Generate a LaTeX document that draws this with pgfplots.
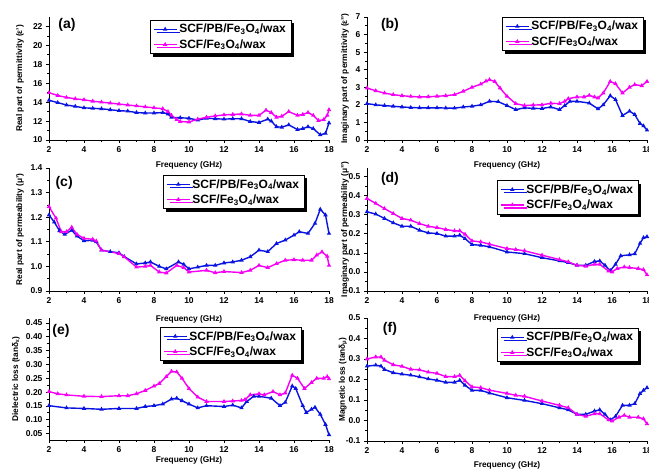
\documentclass[border=0pt]{standalone}
\usepackage{fontspec}
\setmainfont{Liberation Sans}
\usepackage{pgfplots}
\pgfplotsset{compat=1.18}
\usetikzlibrary{shadows}
\definecolor{myblue}{RGB}{10,20,225}
\definecolor{mymag}{RGB}{245,0,245}
\pgfplotsset{
  panel/.style={
    scale only axis, width=280pt, height=123pt,
    xmin=2, xmax=18, xtick={2,4,...,18}, minor x tick num=1, minor y tick num=1,
    axis x line*=bottom, axis y line*=left,
    axis line style={-,line width=0.8pt},
    tick align=outside, major tick length=3pt, minor tick length=2pt,
    every tick/.style={black,line width=0.8pt},
    /pgf/number format/assume math mode=true,
    tick label style={font=\fontsize{8.5}{9}\selectfont\bfseries},
    label style={font=\fontsize{8.3}{9}\selectfont\bfseries},
    xlabel={Frequency (GHz)},
    legend cell align=left,
    legend style={font=\fontsize{12}{13}\selectfont\bfseries, draw=black, line width=0.6pt,
      fill=white, inner xsep=3pt, inner ysep=2pt, row sep=1pt,
      drop shadow={shadow xshift=3pt,shadow yshift=-3pt,fill=black,opacity=1},
      anchor=north west},
    legend image code/.code={\draw[mark repeat=2,mark phase=2,##1] plot coordinates {(0cm,0cm) (0.4cm,0cm) (0.8cm,0cm)};},
  },
  sb/.style={color=myblue, line width=1.4pt, mark=triangle*, mark size=1.2pt, mark options={solid}},
  sm/.style={color=mymag, line width=1.4pt, mark=triangle*, mark size=1.2pt, mark options={solid}},
}
\newcommand{\lega}{\legend{SCF/PB/Fe\textsubscript{3}O\textsubscript{4}/wax,SCF/Fe\textsubscript{3}O\textsubscript{4}/wax}}
\newcommand{\plab}[3]{\node[font=\fontsize{14}{15}\selectfont\bfseries] at (rel axis cs:#1,#2) {#3};}
\begin{document}
\begin{tikzpicture}
\useasboundingbox (0,0) rectangle (649pt,472pt);
% (a)
\begin{axis}[panel, at={(49pt,332pt)}, anchor=south west,
  ymin=10, ymax=23, ytick={10,12,...,22},
  ylabel={Real part of permittivity (ε')},
  ylabel style={at={(axis description cs:-0.104,0.5)},anchor=center},
  xlabel style={at={(axis description cs:0.5,-0.203)},anchor=center},
  legend style={at={(0.36,0.976)}}]
\addplot[sb] coordinates {(2,14.2)(2.5,13.95)(3,13.7)(3.5,13.55)(4,13.4)(4.5,13.35)(5,13.3)(5.5,13.2)(6,13.1)(6.5,13.05)(7,12.9)(7.5,12.85)(8,12.85)(8.5,12.9)(8.8,12.75)(9,12.4)(9.5,12.35)(10,12.3)(10.5,12.1)(11,12.3)(11.5,12.25)(12,12.2)(12.5,12.25)(13,12.25)(13.5,11.95)(14,11.85)(14.5,12.2)(14.7,12.0)(15,11.4)(15.3,11.35)(15.7,11.6)(16.2,11.1)(16.5,11.2)(16.8,11.4)(17.1,11.2)(17.5,10.55)(17.8,10.7)(18,11.8)};
\addplot[sm] coordinates {(2,15.0)(2.5,14.7)(3,14.5)(3.5,14.35)(4,14.25)(4.5,14.1)(5,14.0)(5.5,13.9)(6,13.8)(6.5,13.7)(7,13.6)(7.5,13.5)(8,13.4)(8.5,13.3)(8.8,13.0)(9,12.6)(9.3,12.15)(9.5,11.95)(10,11.9)(10.5,12.2)(11,12.4)(11.5,12.55)(12,12.65)(12.5,12.7)(13,12.75)(13.5,12.6)(14,12.6)(14.4,13.15)(14.7,12.9)(15,12.4)(15.3,12.5)(15.7,13.0)(16.2,12.6)(16.5,12.7)(16.8,12.9)(17.1,12.6)(17.4,12.05)(17.7,12.15)(17.9,12.6)(18,13.2)};
\lega
\plab{0.064}{0.935}{(a)}
\end{axis}
% (b)
\begin{axis}[panel, at={(367pt,332pt)}, anchor=south west,
  ymin=0, ymax=7, ytick={0,1,...,7},
  ylabel={Imaginary part of permittivity (ε'')},
  ylabel style={at={(axis description cs:-0.079,0.5)},anchor=center},
  xlabel style={at={(axis description cs:0.5,-0.209)},anchor=center},
  legend style={at={(0.482,1.0)}}]
\addplot[sb] coordinates {(2,2.07)(2.5,2.0)(3,1.96)(3.5,1.92)(4,1.88)(4.5,1.85)(5,1.83)(5.5,1.83)(6,1.83)(6.5,1.82)(7,1.81)(7.5,1.88)(8,1.92)(8.5,2.0)(9,2.2)(9.5,2.18)(10,1.96)(10.5,1.73)(11,1.83)(11.5,1.8)(12,1.79)(12.5,1.88)(13,1.73)(13.3,1.96)(13.6,2.2)(14,2.2)(14.7,2.1)(15.2,1.77)(15.5,2.0)(15.9,2.52)(16.2,2.3)(16.6,1.39)(17,1.64)(17.3,1.45)(17.6,0.94)(17.8,0.8)(18,0.56)};
\addplot[sm] coordinates {(2,2.96)(2.5,2.8)(3,2.67)(3.5,2.58)(4,2.52)(4.5,2.48)(5,2.45)(5.5,2.46)(6,2.49)(6.5,2.52)(7,2.58)(7.5,2.77)(8,3.0)(8.5,3.18)(8.8,3.35)(9,3.43)(9.3,3.33)(9.6,2.96)(10,2.49)(10.5,2.07)(11,1.96)(11.5,1.99)(12,2.0)(12.5,2.09)(13,2.07)(13.3,2.2)(13.5,2.35)(14,2.45)(14.4,2.45)(14.7,2.54)(15,2.45)(15.2,2.39)(15.5,2.67)(15.9,3.33)(16.2,3.2)(16.6,2.67)(17,3.0)(17.3,3.15)(17.7,3.09)(18,3.33)};
\lega
\plab{0.082}{0.935}{(b)}
\end{axis}
% (c)
\begin{axis}[panel, at={(49pt,181pt)}, anchor=south west,
  ymin=0.9, ymax=1.4, ytick={0.9,1.0,...,1.4},
  yticklabel style={/pgf/number format/.cd,fixed,precision=1,fixed zerofill},
  ylabel={Real part of permeability (μ')},
  ylabel style={at={(axis description cs:-0.104,0.5)},anchor=center},
  xlabel style={at={(axis description cs:0.5,-0.228)},anchor=center},
  legend style={at={(0.407,0.943)}}]
\addplot[sb] coordinates {(2,1.209)(2.3,1.18)(2.6,1.145)(2.9,1.13)(3.3,1.147)(3.6,1.123)(4,1.104)(4.5,1.106)(4.7,1.1)(5,1.066)(5.5,1.06)(6,1.055)(6.3,1.04)(7,1.01)(7.5,1.014)(7.8,1.018)(8.3,1.0)(8.7,0.99)(9.4,1.018)(9.7,1.008)(10,0.99)(10.5,0.997)(11,1.004)(11.5,1.004)(12,1.014)(12.5,1.018)(13,1.025)(13.5,1.039)(14,1.066)(14.5,1.06)(15,1.093)(15.5,1.107)(16,1.127)(16.3,1.141)(16.8,1.134)(17.2,1.175)(17.5,1.232)(17.8,1.209)(18,1.134)};
\addplot[sm] coordinates {(2,1.243)(2.4,1.196)(2.7,1.141)(3,1.141)(3.3,1.159)(3.6,1.13)(4,1.114)(4.5,1.11)(4.7,1.103)(5,1.066)(6,1.052)(6.3,1.039)(7,0.997)(7.5,1.0)(7.8,1.004)(8.3,0.977)(8.7,0.973)(9.3,1.004)(9.7,0.995)(10,0.977)(11,0.984)(11.5,0.974)(12,0.979)(13,0.975)(13.5,0.984)(14,1.004)(14.5,0.995)(15,1.011)(15.5,1.025)(16,1.027)(16.5,1.025)(17,1.025)(17.3,1.046)(17.6,1.059)(17.9,1.041)(18,1.004)};
\lega
\plab{0.054}{0.878}{(c)}
\end{axis}
% (d)
\begin{axis}[panel, at={(367pt,181pt)}, anchor=south west,
  ymin=-0.1, ymax=0.546, ytick={-0.1,0,0.1,0.2,0.3,0.4,0.5},
  yticklabel style={/pgf/number format/.cd,fixed,precision=1,fixed zerofill},
  ylabel={Imaginary part of permeability (μ'')},
  ylabel style={at={(axis description cs:-0.079,0.5)},anchor=center},
  xlabel style={at={(axis description cs:0.5,-0.22)},anchor=center},
  legend style={at={(0.464,0.90)}}]
\addplot[sb] coordinates {(2,0.316)(2.5,0.304)(3,0.281)(3.5,0.258)(4,0.24)(4.5,0.24)(5,0.219)(5.5,0.205)(6,0.202)(6.5,0.188)(7,0.188)(7.3,0.193)(7.6,0.175)(8,0.144)(8.5,0.14)(9,0.132)(10,0.105)(11,0.096)(12,0.075)(13,0.058)(13.5,0.049)(14,0.035)(14.5,0.035)(15,0.055)(15.3,0.058)(15.6,0.035)(15.9,0.007)(16.2,0.04)(16.5,0.085)(17,0.09)(17.3,0.095)(17.6,0.15)(17.8,0.18)(18,0.185)};
\addplot[sm] coordinates {(2,0.386)(2.5,0.36)(3,0.333)(3.5,0.307)(4,0.281)(4.5,0.272)(5,0.254)(5.5,0.24)(6,0.233)(6.5,0.223)(7,0.216)(7.3,0.216)(7.6,0.198)(8,0.163)(8.5,0.158)(9,0.146)(10,0.123)(10.5,0.118)(11,0.111)(12,0.088)(13,0.065)(13.5,0.053)(14,0.035)(14.5,0.03)(15,0.04)(15.3,0.04)(15.8,0.005)(16,0.0)(16.3,0.018)(16.7,0.026)(17,0.023)(17.5,0.018)(17.8,0.012)(18,-0.015)};
\lega
\plab{0.082}{0.91}{(d)}
\end{axis}
% (e)
\begin{axis}[panel, height=122pt, at={(49pt,32pt)}, anchor=south west,
  ymin=0.027, ymax=0.468, ytick={0.05,0.10,...,0.46},
  yticklabel style={/pgf/number format/.cd,fixed,precision=2,fixed zerofill},
  ylabel={Dielectric loss (tanδ\textsubscript{ε})},
  ylabel style={at={(axis description cs:-0.118,0.5)},anchor=center},
  xlabel style={at={(axis description cs:0.5,-0.17)},anchor=center},
  legend style={at={(0.396,0.926)}}]
\addplot[sb] coordinates {(2,0.151)(3,0.143)(4,0.141)(5,0.138)(6,0.141)(7,0.141)(7.5,0.148)(8,0.151)(8.5,0.157)(9,0.175)(9.3,0.178)(9.6,0.169)(10,0.157)(10.5,0.143)(11,0.151)(12,0.148)(12.5,0.153)(13,0.143)(13.3,0.166)(13.7,0.185)(14,0.185)(14.7,0.178)(15.2,0.151)(15.5,0.163)(15.9,0.222)(16.1,0.213)(16.5,0.151)(16.7,0.126)(17,0.138)(17.2,0.145)(17.5,0.12)(17.8,0.083)(18,0.046)};
\addplot[sm] coordinates {(2,0.202)(2.5,0.194)(3,0.19)(4,0.185)(5,0.184)(6,0.187)(6.5,0.187)(7,0.194)(7.5,0.206)(8,0.222)(8.3,0.231)(8.7,0.256)(9,0.275)(9.3,0.273)(9.6,0.25)(10,0.213)(10.5,0.182)(11,0.166)(12,0.166)(12.5,0.168)(13,0.17)(13.2,0.173)(13.5,0.19)(14,0.194)(14.3,0.19)(14.8,0.202)(15.2,0.19)(15.5,0.197)(15.9,0.261)(16.2,0.25)(16.6,0.213)(17,0.235)(17.3,0.25)(17.7,0.25)(17.9,0.256)(18,0.248)};
\lega
\plab{0.043}{0.893}{(e)}
\end{axis}
% (f)
\begin{axis}[panel, at={(367pt,31pt)}, anchor=south west,
  ymin=-0.1, ymax=0.5, ytick={-0.1,0,0.1,0.2,0.3,0.4,0.5},
  yticklabel style={/pgf/number format/.cd,fixed,precision=1,fixed zerofill},
  ylabel={Magnetic loss (tanδ\textsubscript{μ})},
  ylabel style={at={(axis description cs:-0.086,0.5)},anchor=center},
  xlabel style={at={(axis description cs:0.5,-0.195)},anchor=center},
  legend style={at={(0.464,0.919)}}]
\addplot[sb] coordinates {(2,0.265)(2.5,0.27)(2.8,0.265)(3,0.249)(3.5,0.233)(4,0.226)(4.5,0.221)(5,0.213)(5.5,0.203)(6,0.196)(6.5,0.186)(7,0.186)(7.3,0.196)(7.6,0.172)(8,0.147)(8.5,0.147)(9,0.134)(10,0.111)(11,0.098)(12,0.082)(13,0.062)(13.5,0.052)(14,0.03)(14.5,0.03)(15,0.046)(15.3,0.052)(15.6,0.03)(15.9,0.003)(16.2,0.02)(16.6,0.074)(17,0.074)(17.3,0.082)(17.6,0.131)(17.8,0.147)(18,0.16)};
\addplot[sm] coordinates {(2,0.3)(2.5,0.31)(2.8,0.31)(3,0.294)(3.5,0.272)(4,0.264)(4.5,0.25)(5,0.247)(5.5,0.236)(6,0.23)(6.5,0.214)(7,0.214)(7.3,0.22)(7.6,0.194)(8,0.164)(8.5,0.16)(9,0.148)(10,0.132)(10.5,0.123)(11,0.118)(12,0.095)(13,0.074)(13.5,0.062)(14,0.03)(14.5,0.02)(15,0.033)(15.3,0.033)(15.8,0.003)(16,-0.003)(16.4,0.016)(16.7,0.025)(17,0.016)(17.5,0.016)(17.8,0.008)(18,-0.016)};
\lega
\plab{0.082}{0.91}{(f)}
\end{axis}
\end{tikzpicture}
\end{document}
